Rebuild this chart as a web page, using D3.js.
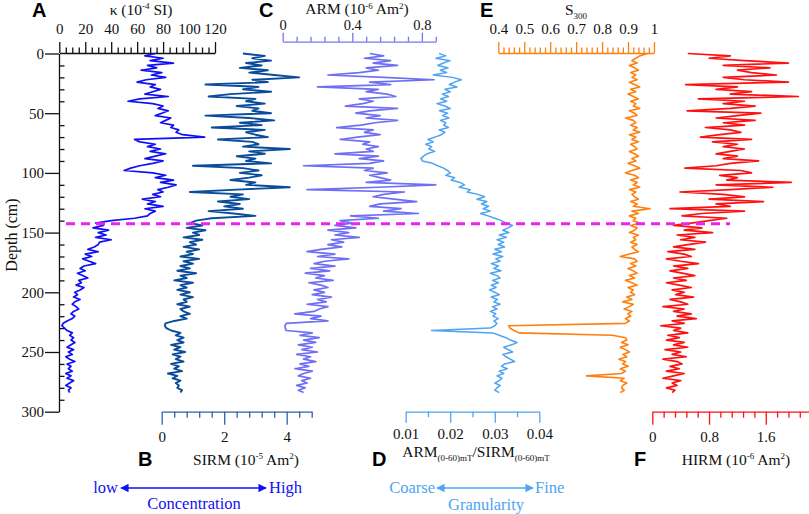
<!DOCTYPE html>
<html>
<head>
<meta charset="utf-8">
<script src="https://cdn.jsdelivr.net/npm/d3@7"></script>
<style>
html,body{margin:0;padding:0;background:#fff;}
svg{display:block;}
svg text, svg tspan{font-family:"Liberation Serif","DejaVu Serif","Times New Roman",serif !important;}
svg text.letter{font-family:"Liberation Sans","DejaVu Sans",Arial,sans-serif !important;font-weight:bold;font-size:20px;}
</style>
</head>
<body>
<svg id="chart" width="809" height="514" font-family="Liberation Serif, DejaVu Serif, serif"></svg>
<script>
// ---------------- DATA ----------------
const depth = [0,2,4,6,8,10,12,14,16,18,20,22,24,26,28,30,32,34,36,38,40,42,44,46,48,50,52,54,56,58,60,62,64,66,68,70,72,74,76,78,80,82,84,86,88,90,92,94,96,98,100,102,104,106,108,110,112,114,116,118,120,122,124,126,128,130,132,134,136,138,140,142,144,146,148,150,152,154,156,158,160,162,164,166,168,170,172,174,176,178,180,182,184,186,188,190,192,194,196,198,200,202,204,206,208,210,212,214,216,218,220,222,224,226,228,230,232,234,236,238,240,242,244,246,248,250,252,254,256,258,260,262,264,266,268,270,272,274,276,278,280,282,284];

const kappa = [
74,66,80,70,88,68,75,63,79,71,
82,67,60,74,70,78,72,66,84,62,
53,72,80,76,84,79,74,86,82,78,
88,86,92,90,95,112,58,62,74,68,
78,70,82,74,66,80,72,62,55,50,
72,82,74,88,78,90,84,76,80,72,
78,64,74,68,80,66,74,70,68,58,
40,28,34,26,38,30,36,28,40,31,
30,27,22,30,20,25,18,23,28,19,
16,20,14,18,22,15,17,13,19,16,
12,14,11,16,12,10,13,15,11,9,
12,10,6,3,2,4,6,10,8,11,
9,12,9,6,11,7,10,5,8,12,
6,9,7,10,5,9,6,11,8,5,
9,7,8];

const sirm = [
2.6,3.3,2.9,3.5,2.7,3.2,2.5,3.4,2.8,3.6,
4.4,2.9,3.4,1.4,3.1,2.6,3.5,2.2,1.5,3.0,
2.7,3.3,2.4,3.1,2.9,3.5,1.4,2.8,3.6,2.5,
3.2,1.6,3.3,2.7,3.0,3.4,1.8,2.9,3.1,2.6,
4.1,2.8,3.3,2.4,3.0,2.7,3.5,1.0,2.6,3.1,
2.5,3.2,2.8,2.2,3.0,2.7,4.1,2.4,0.9,2.6,
2.2,2.8,1.8,2.5,2.0,2.6,1.5,2.3,3.0,1.6,
1.1,0.9,1.3,0.8,1.4,1.0,1.2,0.7,1.3,0.9,
1.1,0.7,1.2,0.8,1.0,0.6,1.2,0.7,1.0,0.6,
0.9,0.5,1.1,0.6,0.8,0.4,1.0,0.6,0.8,0.5,
0.9,0.6,1.0,0.7,0.8,0.5,0.9,0.6,0.7,0.9,
0.6,0.8,0.4,0.12,0.1,0.15,0.3,0.6,0.45,0.7,
0.5,0.7,0.3,0.6,0.4,0.75,0.35,0.6,0.45,0.7,
0.3,0.55,0.4,0.65,0.2,0.5,0.35,0.6,0.45,0.55,
0.5,0.65,0.6];

const arm = [
0.50,0.58,0.47,0.62,0.52,0.66,0.48,0.55,0.44,0.26,
0.58,0.87,0.50,0.62,0.20,0.55,0.48,0.60,0.65,0.44,
0.52,0.46,0.36,0.66,0.50,0.42,0.56,0.48,0.66,0.53,
0.45,0.31,0.52,0.47,0.56,0.43,0.33,0.50,0.46,0.55,
0.48,0.52,0.30,0.55,0.44,0.58,0.50,0.12,0.52,0.47,
0.60,0.50,0.56,0.62,0.48,0.88,0.55,0.14,0.70,0.58,
0.52,0.64,0.77,0.56,0.50,0.68,0.58,0.78,0.39,0.55,
0.33,0.40,0.30,0.42,0.26,0.38,0.30,0.44,0.28,0.35,
0.26,0.34,0.22,0.14,0.30,0.20,0.38,0.24,0.18,0.30,
0.16,0.27,0.13,0.24,0.19,0.29,0.15,0.22,0.26,0.18,
0.24,0.17,0.28,0.20,0.25,0.14,0.26,0.21,0.18,0.07,
0.22,0.16,0.26,0.02,0.013,0.015,0.02,0.17,0.10,0.21,
0.12,0.19,0.09,0.17,0.11,0.20,0.08,0.16,0.12,0.19,
0.10,0.15,0.07,0.17,0.12,0.09,0.16,0.11,0.14,0.08,
0.13,0.09,0.12];

const armSirm = [
0.0175,0.0190,0.0168,0.0200,0.0185,0.0172,0.0195,0.0178,0.0192,0.0162,
0.0205,0.0225,0.0210,0.0198,0.0215,0.0188,0.0200,0.0182,0.0196,0.0178,
0.0192,0.0170,0.0188,0.0200,0.0176,0.0194,0.0183,0.0197,0.0178,0.0190,
0.0185,0.0196,0.0175,0.0188,0.0180,0.0166,0.0150,0.0162,0.0145,0.0158,
0.0152,0.0165,0.0148,0.0140,0.0134,0.0138,0.0160,0.0172,0.0185,0.0194,
0.0200,0.0190,0.0210,0.0202,0.0222,0.0232,0.0220,0.0245,0.0238,0.0262,
0.0277,0.0260,0.0282,0.0270,0.0286,0.0274,0.0290,0.0268,0.0285,0.0300,
0.0315,0.0325,0.0340,0.0330,0.0318,0.0332,0.0310,0.0326,0.0305,0.0320,
0.0308,0.0322,0.0300,0.0315,0.0296,0.0318,0.0302,0.0312,0.0292,0.0308,
0.0298,0.0314,0.0290,0.0305,0.0312,0.0295,0.0308,0.0292,0.0303,0.0288,
0.0300,0.0310,0.0292,0.0306,0.0298,0.0312,0.0295,0.0305,0.0290,0.0302,
0.0296,0.0308,0.0298,0.0305,0.0300,0.0290,0.0158,0.0295,0.0310,0.0325,
0.0335,0.0350,0.0338,0.0320,0.0330,0.0340,0.0318,0.0325,0.0335,0.0345,
0.0322,0.0315,0.0328,0.0310,0.0320,0.0305,0.0316,0.0310,0.0300,0.0312,
0.0305,0.0300,0.0310];

const s300 = [
0.975,0.945,0.930,0.915,0.935,0.905,0.925,0.940,0.910,0.930,
0.915,0.935,0.905,0.925,0.945,0.910,0.930,0.900,0.920,0.940,
0.910,0.930,0.920,0.945,0.905,0.925,0.935,0.890,0.920,0.930,
0.910,0.935,0.920,0.945,0.905,0.930,0.915,0.940,0.910,0.925,
0.935,0.905,0.925,0.940,0.915,0.930,0.900,0.925,0.945,0.915,
0.890,0.925,0.940,0.910,0.935,0.920,0.945,0.905,0.930,0.915,
0.925,0.940,0.910,0.935,0.920,0.985,0.915,0.940,0.905,0.930,
0.920,0.945,0.910,0.935,0.925,0.905,0.940,0.920,0.930,0.910,
0.935,0.915,0.925,0.940,0.905,0.870,0.925,0.935,0.910,0.930,
0.900,0.920,0.935,0.905,0.925,0.890,0.915,0.935,0.900,0.920,
0.910,0.925,0.895,0.915,0.880,0.920,0.905,0.885,0.915,0.900,
0.910,0.890,0.905,0.890,0.440,0.445,0.460,0.480,0.840,0.890,
0.895,0.875,0.900,0.870,0.890,0.905,0.880,0.895,0.865,0.890,
0.880,0.900,0.870,0.890,0.875,0.740,0.885,0.870,0.895,0.880,
0.875,0.885,0.870];

const hirm = [
0.5,1.1,0.8,1.3,1.92,1.0,1.66,1.2,1.4,1.75,
1.0,1.3,1.92,0.47,1.2,0.9,1.4,1.1,2.06,0.65,
1.3,1.0,1.45,1.1,0.49,1.53,1.2,0.9,1.45,1.0,
1.3,0.75,1.1,1.25,0.95,0.68,1.4,0.85,1.2,1.0,
1.3,1.1,0.9,1.2,1.0,1.5,1.1,0.9,0.46,1.25,
1.4,0.95,1.2,1.05,1.96,0.9,1.7,1.1,0.39,1.0,
1.3,0.8,1.57,0.9,1.1,0.25,1.3,0.7,0.42,1.05,
0.8,0.55,0.3,0.7,0.45,0.85,0.35,0.6,0.4,0.75,
0.5,0.3,0.6,0.22,0.45,0.55,0.2,0.4,0.65,0.3,
0.5,0.25,0.42,0.6,0.3,0.48,0.2,0.38,0.55,0.28,
0.45,0.33,0.58,0.25,0.4,0.5,0.15,0.45,0.3,0.55,
0.35,0.62,0.28,0.45,0.12,0.4,0.3,0.5,0.22,0.38,
0.2,0.45,0.3,0.5,0.18,0.4,0.28,0.48,0.15,0.35,
0.42,0.25,0.38,0.2,0.45,0.3,0.15,0.4,0.28,0.35,
0.2,0.32,0.28];

const boundaryDepth = 142.5;

// tick labels
const depthTicks = [0,50,100,150,200,250,300];
const kappaTicks = [0,20,40,60,80,100,120];
const armTicks = [0,0.4,0.8];
const s300Ticks = [0.4,0.5,0.6,0.7,0.8,0.9,1];
const sirmTicks = [0,2,4];
const asTicks = [0.01,0.02,0.03,0.04];
const hirmTicks = [0,0.8,1.6];

// ---------------- COLORS ----------------
const C = {
  kappa:"#1010f5", sirm:"#0a4c9c", arm:"#6f6ff5", as:"#4ea4f2",
  s300:"#ff7f0f", hirm:"#ff1010", dash:"#ee22ee",
  sirmAxis:"#2b62ad", asAxis:"#4ea4f2", armAxis:"#7575f5"
};
const SERIF = "Liberation Serif, DejaVu Serif, serif";

const svg = d3.select("#chart");

// ---------------- SCALES ----------------
const y = d3.scaleLinear().domain([0,300]).range([53.5,411.7]);
const xK = d3.scaleLinear().domain([0,120]).range([59.3,215]);
const xSIRM = d3.scaleLinear().domain([0,4.8]).range([161.7,311.7]);
const xARM = d3.scaleLinear().domain([0,0.88]).range([282.7,435.8]);
const xAS = d3.scaleLinear().domain([0.01,0.04]).range([405.7,539.3]);
const xS = d3.scaleLinear().domain([0.4,1]).range([498.3,654]);
const xH = d3.scaleLinear().domain([0,2.21]).range([652.3,809]);

function rng(a,b,s){ const n=Math.round((b-a)/s); return d3.range(n+1).map(i=>+(a+i*s).toFixed(6)); }

function drawAxis(opts){
  const {scale, yPos, orient, color, minorStep, majors, fmt, majorLen, minorLen, labelY, fs} = opts;
  const g = svg.append("g").attr("transform",`translate(0,${yPos})`);
  const dom = scale.domain();
  const minors = rng(dom[0], dom[1], minorStep).filter(v=>!majors.some(m=>Math.abs(m-v)<1e-9));
  const mk = orient==="top" ? d3.axisTop : d3.axisBottom;
  const gMinor = g.append("g").call(mk(scale).tickValues(minors).tickSize(minorLen).tickSizeOuter(0).tickFormat(""));
  const gMajor = g.append("g").call(mk(scale).tickValues(majors).tickSize(majorLen).tickSizeOuter(0).tickFormat(fmt));
  gMinor.select(".domain").remove();
  g.selectAll("g").attr("font-family",SERIF);
  g.selectAll("path.domain").attr("stroke",color).attr("stroke-width",1.3);
  g.selectAll("line").attr("stroke",color).attr("stroke-width",1.3);
  gMajor.selectAll("text").attr("fill","#111").attr("font-size",(fs||15)+"px").attr("font-family",SERIF);
  if(labelY!==undefined) gMajor.selectAll("text").attr("y",labelY).attr("dy",0);
  return g;
}

// ---------------- AXES ----------------
drawAxis({scale:xK,yPos:53,orient:"top",color:"#111",minorStep:5,majors:kappaTicks,fmt:d=>d,majorLen:11,minorLen:5.5,labelY:-19});
drawAxis({scale:xARM,yPos:41.7,orient:"top",color:C.armAxis,minorStep:0.08,majors:armTicks,fmt:d=>d===0?"0":d3.format(".1f")(d),majorLen:9,minorLen:5,labelY:-11.7,fs:14.5});
drawAxis({scale:xS,yPos:53,orient:"top",color:C.s300,minorStep:0.02,majors:s300Ticks,fmt:d=>d===1?"1":d3.format(".1f")(d),majorLen:11,minorLen:5.5,labelY:-19});
drawAxis({scale:xSIRM,yPos:411.7,orient:"bottom",color:C.sirmAxis,minorStep:0.4,majors:sirmTicks,fmt:d=>d,majorLen:13,minorLen:6,labelY:30});
drawAxis({scale:xAS,yPos:411.7,orient:"bottom",color:C.asAxis,minorStep:0.005,majors:asTicks,fmt:d=>d3.format(".2f")(d),majorLen:11,minorLen:5.5,labelY:27});
drawAxis({scale:xH,yPos:411.7,orient:"bottom",color:C.hirm,minorStep:0.16,majors:hirmTicks,fmt:d=>d===0?"0":d3.format(".1f")(d),majorLen:13,minorLen:6,labelY:30});

// depth axis
const gD = svg.append("g").attr("transform","translate(59,0)");
gD.append("g").call(d3.axisLeft(y).tickValues(depthTicks).tickSize(14).tickSizeOuter(0).tickFormat(d=>d))
  .call(g=>{g.attr("font-family",SERIF);g.selectAll("text").attr("font-size","15px").attr("fill","#111").attr("x",-15).attr("font-family",SERIF);});
gD.append("g").call(d3.axisRight(y).tickValues(rng(0,300,10).filter(v=>v%50!==0)).tickSize(5.5).tickSizeOuter(0).tickFormat(""))
  .call(g=>g.select(".domain").remove());
gD.selectAll("path.domain").attr("stroke","#111").attr("stroke-width",1.3);
gD.selectAll("line").attr("stroke","#111").attr("stroke-width",1.3);

svg.append("text").attr("transform","translate(17,235) rotate(-90)").attr("font-family",SERIF)
  .attr("text-anchor","middle").attr("font-size","16px").attr("fill","#111").text("Depth (cm)");

// ---------------- CURVES ----------------
function curve(values, xs, color, w){
  const line = d3.line().x((d,i)=>xs(values[i])).y((d,i)=>y(depth[i]));
  svg.append("path").datum(depth).attr("d",line).attr("fill","none")
    .attr("stroke",color).attr("stroke-width",w).attr("stroke-linejoin","round");
}
curve(kappa,xK,C.kappa,1.7);
curve(sirm,xSIRM,C.sirm,1.9);
curve(arm,xARM,C.arm,1.7);
curve(armSirm,xAS,C.as,1.5);
curve(s300,xS,C.s300,1.6);
curve(hirm,xH,C.hirm,1.7);

// boundary dashed line
svg.append("line").attr("x1",66).attr("x2",730)
  .attr("y1",y(boundaryDepth)).attr("y2",y(boundaryDepth))
  .attr("stroke",C.dash).attr("stroke-width",3).attr("stroke-dasharray","9,6");

// ---------------- TITLES ----------------
function letter(t,x,yy){ svg.append("text").attr("class","letter").attr("x",x).attr("y",yy)
  .attr("font-family","Liberation Sans, DejaVu Sans, sans-serif").attr("font-weight","bold").attr("font-size","20px")
  .attr("fill","#000").text(t); }
letter("A",32,17); letter("C",259,17); letter("E",480,17);
letter("B",138,466); letter("D",372,466); letter("F",634,466);

function sup(parts, x, yy, anchor, rise){
  const r = rise||6;
  const txt = svg.append("text").attr("x",x).attr("y",yy).attr("text-anchor",anchor||"middle")
    .attr("font-size","15.5px").attr("fill","#111").attr("font-family",SERIF);
  parts.forEach(p=>{
    const ts = txt.append("tspan").text(p.t);
    if(p.s==="sup") ts.attr("font-size","9px").attr("dy",-r);
    else if(p.s==="sub") ts.attr("font-size","9px").attr("dy",4);
    if(p.back) ts.attr("dy",p.back===6?r:p.back);
  });
  return txt;
}
sup([{t:"κ (10"},{t:"-4",s:"sup"},{t:" SI)",back:6}],141,15);
sup([{t:"ARM (10"},{t:"-6",s:"sup"},{t:" Am",back:6},{t:"2",s:"sup"},{t:")",back:6}],357,14,"middle",5);
sup([{t:"S"},{t:"300",s:"sub"}],576,15);
sup([{t:"SIRM (10"},{t:"-5",s:"sup"},{t:" Am",back:6},{t:"2",s:"sup"},{t:")",back:6}],246,465);
sup([{t:"ARM"},{t:"(0-60)mT",s:"sub"},{t:"/SIRM",back:-4},{t:"(0-60)mT",s:"sub"}],476,457);
sup([{t:"HIRM (10"},{t:"-6",s:"sup"},{t:" Am",back:6},{t:"2",s:"sup"},{t:")",back:6}],736,465);

// ---------------- LEGEND ARROWS ----------------
const defs = svg.append("defs");
function marker(id,color){
  defs.append("marker").attr("id",id).attr("viewBox","0 0 10 10").attr("refX",9).attr("refY",5)
    .attr("markerWidth",6).attr("markerHeight",6).attr("orient","auto-start-reverse")
    .append("path").attr("d","M0,0 L10,5 L0,10 z").attr("fill",color);
}
marker("arrB",C.kappa); marker("arrL",C.as);

function ltext(t,x,yy,anchor,color){
  svg.append("text").attr("x",x).attr("y",yy).attr("text-anchor",anchor).attr("font-size","16.5px")
    .attr("font-family",SERIF).attr("fill",color).text(t);
}
svg.append("line").attr("x1",121).attr("x2",266).attr("y1",488).attr("y2",488)
  .attr("stroke",C.kappa).attr("stroke-width",1.4)
  .attr("marker-start","url(#arrB)").attr("marker-end","url(#arrB)");
ltext("low",118,493,"end",C.kappa);
ltext("High",269,493,"start",C.kappa);
ltext("Concentration",194,509,"middle",C.kappa);

svg.append("line").attr("x1",437).attr("x2",533).attr("y1",488).attr("y2",488)
  .attr("stroke",C.as).attr("stroke-width",1.4)
  .attr("marker-start","url(#arrL)").attr("marker-end","url(#arrL)");
ltext("Coarse",435,493,"end",C.as);
ltext("Fine",535,493,"start",C.as);
ltext("Granularity",486,510,"middle",C.as);
</script>
</body>
</html>
